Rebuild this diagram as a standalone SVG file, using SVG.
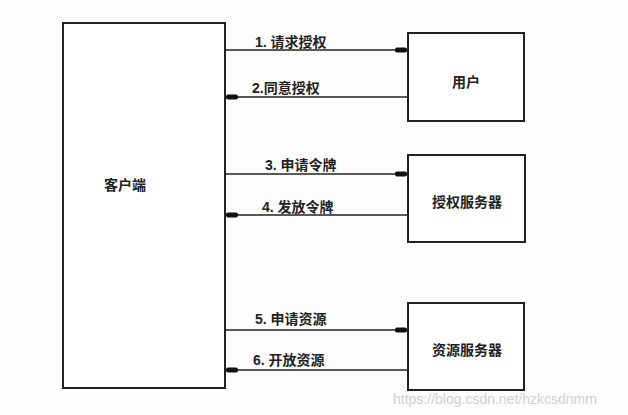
<svg xmlns="http://www.w3.org/2000/svg" width="628" height="415" viewBox="0 0 628 415">
<style>
.box{fill:#fff;stroke:#222;stroke-width:2}
.t{font-family:"Liberation Sans","Noto Sans CJK SC",sans-serif;font-size:14px;font-weight:bold;fill:#222}
.c{stroke:#222;stroke-width:1.6;fill:none}
.wm{font-family:"Liberation Sans",sans-serif;font-size:14px;fill:#d0d0d0}
</style>
<defs>
<marker id="h" markerWidth="12" markerHeight="6" refX="12" refY="3" orient="auto" markerUnits="userSpaceOnUse">
<rect x="0" y="0.5" width="12" height="5" rx="2" fill="#111"/>
</marker>
</defs>
<rect width="628" height="415" fill="#fdfdfd"/>
<g id="client"><rect class="box" x="63" y="23" width="162" height="365"/><text class="t" x="125" y="190" text-anchor="middle">客户端</text></g>
<g id="user"><rect class="box" x="408" y="33" width="116" height="88"/><text class="t" x="466" y="87" text-anchor="middle">用户</text></g>
<g id="auth"><rect class="box" x="408" y="155" width="117" height="87"/><text class="t" x="467" y="207" text-anchor="middle">授权服务器</text></g>
<g id="res"><rect class="box" x="408" y="303" width="116" height="87"/><text class="t" x="467" y="355" text-anchor="middle">资源服务器</text></g>
<g id="connectors">
<line class="c" x1="225" y1="50" x2="407" y2="50" marker-end="url(#h)"/>
<line class="c" x1="407" y1="97" x2="226" y2="97" marker-end="url(#h)"/>
<line class="c" x1="225" y1="174" x2="407" y2="174" marker-end="url(#h)"/>
<line class="c" x1="407" y1="215" x2="226" y2="215" marker-end="url(#h)"/>
<line class="c" x1="225" y1="330" x2="407" y2="330" marker-end="url(#h)"/>
<line class="c" x1="407" y1="370" x2="226" y2="370" marker-end="url(#h)"/>
<text class="t" x="255" y="47">1. 请求授权</text>
<text class="t" x="252" y="93">2.同意授权</text>
<text class="t" x="265" y="170">3. 申请令牌</text>
<text class="t" x="262" y="212">4. 发放令牌</text>
<text class="t" x="255" y="324">5. 申请资源</text>
<text class="t" x="253" y="365">6. 开放资源</text>
</g>
<text class="wm" x="393" y="404">https://blog.csdn.net/hzkcsdnmm</text>
</svg>
